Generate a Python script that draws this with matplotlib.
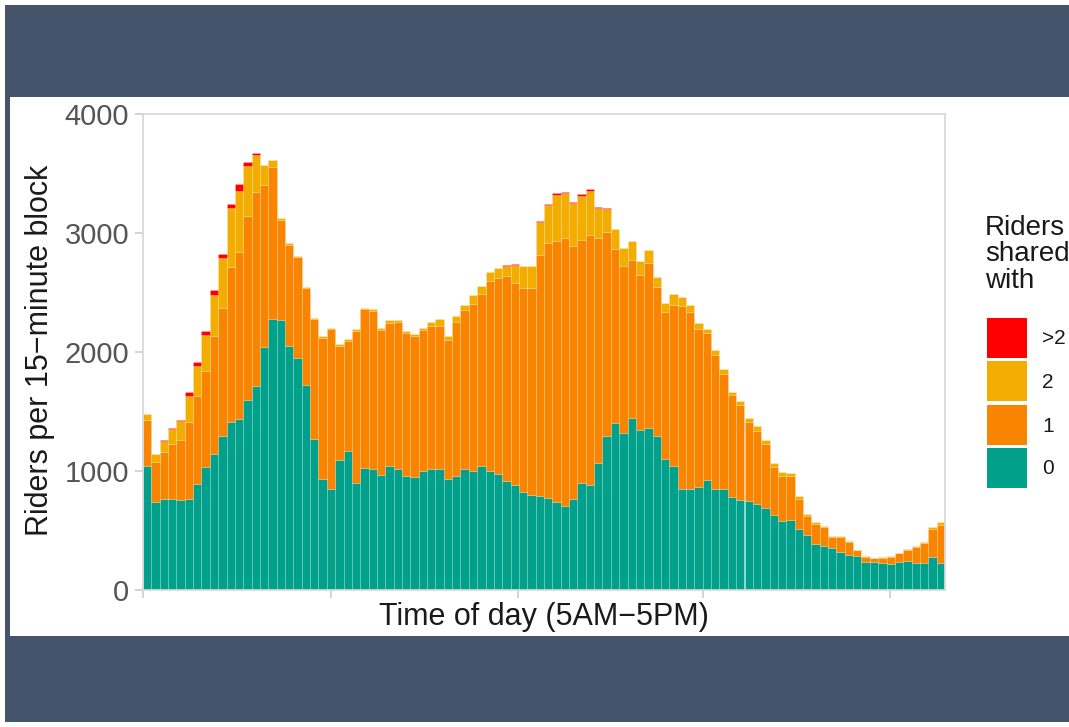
import matplotlib
matplotlib.use("Agg")
import matplotlib.pyplot as plt
from matplotlib.patches import Rectangle
import numpy as np

# ---- data: riders per 15-minute block, split by number of riders shared with ----
shared_0 = [1046, 739, 767, 762, 753, 762, 893, 1032, 1144, 1297, 1409, 1437, 1596, 1716, 2042, 2274,
            2265, 2051, 1953, 1724, 1269, 929, 845, 1094, 1172, 898, 1024, 1013, 963, 1041, 1013, 957,
            948, 1004, 1018, 1018, 935, 962, 1018, 1004, 1046, 1004, 976, 915, 879, 823, 795, 787,
            776, 739, 706, 762, 901, 879, 1066, 1292, 1401, 1317, 1442, 1345, 1361, 1297, 1102, 1041,
            845, 851, 865, 921, 851, 845, 781, 759, 745, 725, 689, 633, 578, 591, 516, 460,
            390, 368, 349, 321, 298, 285, 237, 237, 223, 218, 237, 245, 229, 229, 279, 223]
shared_1 = [382, 335, 391, 466, 508, 652, 739, 809, 990, 1075, 1303, 1400, 1543, 1632, 1362, 1283,
            846, 851, 845, 815, 1005, 1191, 1345, 957, 920, 1278, 1334, 1331, 1222, 1205, 1239, 1205,
            1186, 1178, 1200, 1200, 1163, 1289, 1331, 1401, 1443, 1596, 1647, 1722, 1702, 1716, 1744, 2031,
            2140, 2196, 2251, 2126, 2042, 2106, 1891, 1713, 1464, 1403, 1328, 1306, 1387, 1250, 1233, 1358,
            1540, 1487, 1325, 1236, 1121, 968, 857, 798, 664, 614, 539, 399, 384, 366, 251, 159,
            168, 162, 97, 125, 106, 50, 42, 28, 50, 61, 70, 95, 134, 167, 237, 321]
shared_2 = [51, 70, 97, 125, 162, 218, 251, 301, 349, 418, 496, 519, 427, 307, 167, 56,
            14, 10, 10, 10, 12, 14, 14, 14, 14, 14, 14, 14, 14, 20, 20, 16,
            20, 16, 33, 56, 36, 51, 50, 72, 69, 70, 83, 89, 153, 181, 187, 271,
            320, 385, 377, 362, 369, 369, 257, 195, 170, 154, 159, 111, 112, 84, 78, 92,
            81, 56, 50, 39, 42, 42, 30, 33, 33, 36, 36, 37, 30, 30, 25, 20,
            15, 12, 10, 8, 8, 5, 5, 5, 5, 5, 5, 5, 8, 8, 15, 28]
shared_more = [0, 0, 5, 8, 8, 36, 36, 34, 34, 36, 37, 53, 28, 19, 0, 0,
               0, 0, 0, 0, 0, 0, 0, 0, 0, 0, 0, 0, 0, 0, 0, 0,
               0, 0, 0, 0, 0, 0, 0, 0, 0, 0, 0, 5, 5, 0, 0, 8,
               9, 14, 14, 14, 14, 14, 8, 8, 0, 0, 0, 0, 0, 0, 0, 0,
               0, 0, 0, 0, 0, 0, 0, 0, 0, 0, 0, 0, 0, 0, 0, 0,
               0, 0, 0, 0, 0, 0, 0, 0, 0, 0, 0, 0, 0, 0, 0, 0]
legend_labels = [">2", "2", "1", "0"]
y_ticks = [0, 1000, 2000, 3000, 4000]
x_tick_positions = [0, 22.5, 44.9, 67.0, 89.4]

colors = {"0": "#00A08A", "1": "#F98400", "2": "#F2AD00", ">2": "#FF0000"}

W, H = 1069, 727
fig = plt.figure(figsize=(W / 100, H / 100), dpi=100, facecolor="white")

def px_rect(x0, y0, x1, y1, color, z, ec="none", lw=0):
    fig.add_artist(Rectangle((x0 / W, 1 - y1 / H), (x1 - x0) / W, (y1 - y0) / H,
                             transform=fig.transFigure, facecolor=color, edgecolor=ec,
                             linewidth=lw, zorder=z))

slate = "#44546A"
px_rect(5, 5, W, 722, slate, -10)
px_rect(10, 97, W, 636, "white", -9)

ax = fig.add_axes([143 / W, 1 - 590 / H, (945 - 143) / W, (590 - 114) / H])
ax.set_facecolor("white")

n = len(shared_0)
x = np.arange(n) + 0.5
s0 = np.array(shared_0)
s1 = np.array(shared_1)
s2 = np.array(shared_2)
s3 = np.array(shared_more)
bw = 1.0
sep = (1, 1, 1, 0.22)
kw = dict(width=bw, linewidth=0.5, edgecolor=sep)
b0 = ax.bar(x, s0, color=colors["0"], **kw)
b1 = ax.bar(x, s1, bottom=s0, color=colors["1"], **kw)
b2 = ax.bar(x, s2, bottom=s0 + s1, color=colors["2"], **kw)
b3 = ax.bar(x, s3, bottom=s0 + s1 + s2, color=colors[">2"], **kw)

ax.set_xlim(0, n)
ax.set_ylim(0, 4000)
ax.set_yticks(y_ticks)
ax.set_xticks(x_tick_positions)
ax.set_xticklabels([])
for sp in ax.spines.values():
    sp.set_color("#D9D9D9")
    sp.set_linewidth(1.3)
ax.tick_params(axis="both", color="#CCCCCC", length=6, width=1.2)
ax.tick_params(axis="y", labelsize=21, labelcolor="#555555", pad=4)
fam = ["Liberation Sans", "DejaVu Sans"]
for lab in ax.get_yticklabels():
    lab.set_family(fam)

fig.text(544 / W, 1 - 617 / H, "Time of day (5AM\u22125PM)", ha="center", va="center",
         fontsize=22, color="#1A1A1A", family=fam)
fig.text(40 / W, 1 - 350 / H, "Riders per 15\u2212minute block", ha="center", va="center",
         rotation=90, fontsize=22, color="#1A1A1A", family=fam)

# legend drawn manually in pixel positions
fig.text(985 / W, 1 - 215 / H, "Riders\nshared\nwith", ha="left", va="top",
         fontsize=20, color="#1A1A1A", family=fam, linespacing=1.02)
key_tops = [318, 361, 405, 448]
key_cols = [colors[">2"], colors["2"], colors["1"], colors["0"]]
for top, col, lab in zip(key_tops, key_cols, legend_labels):
    px_rect(987, top, 1027, top + 40, col, 5)
    fig.text(1042 / W, 1 - (top + 21) / H, lab, ha="left", va="center",
             fontsize=15, color="#1A1A1A", family=fam)

fig.savefig("out.png", dpi=100, facecolor="white")
